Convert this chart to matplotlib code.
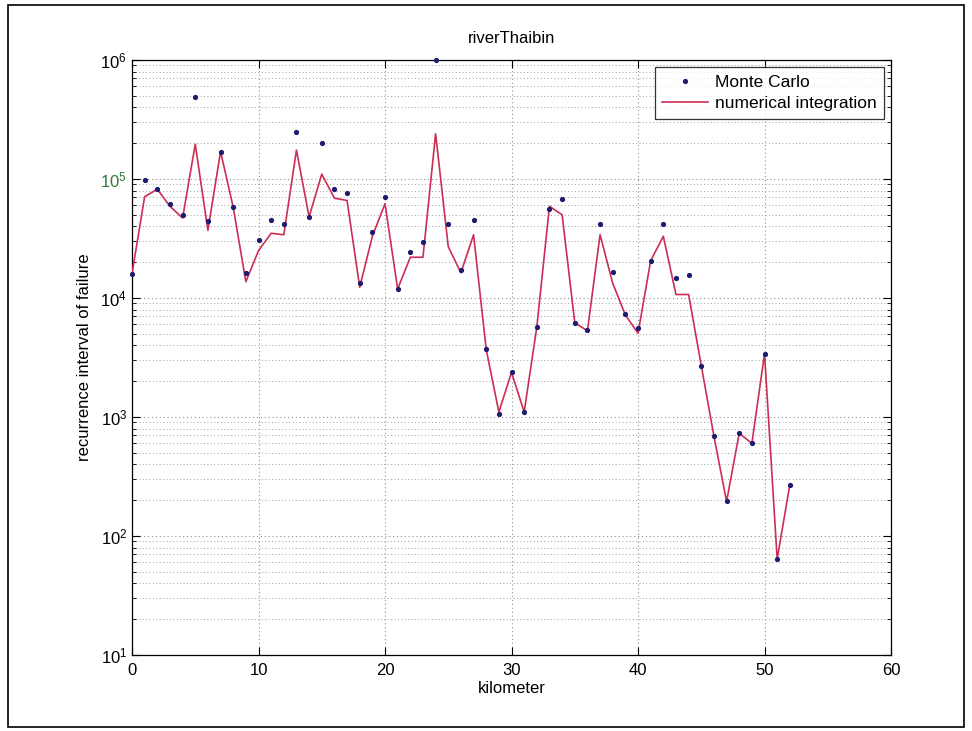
"""
Recurrence interval of failure along riverThaibin (Monte Carlo vs numerical integration).
"""

import numpy as np
import matplotlib
matplotlib.use("Agg")
import matplotlib.pyplot as plt
from matplotlib.patches import Rectangle
from matplotlib.ticker import LogLocator, NullFormatter, FixedLocator

plt.rcParams["font.family"] = ["Liberation Sans", "DejaVu Sans"]

km = list(range(0, 53))

# Monte Carlo estimates (dots)
monte_carlo = [
    1.6e4, 9.9e4, 8.2e4, 6.2e4, 5.0e4, 4.9e5, 4.4e4, 1.7e5, 5.8e4, 1.63e4,
    3.1e4, 4.5e4, 4.2e4, 2.5e5, 4.8e4, 2.0e5, 8.3e4, 7.7e4, 1.33e4, 3.6e4,
    7.1e4, 1.19e4, 2.45e4, 2.97e4, 1.0e6, 4.2e4, 1.72e4, 4.5e4, 3.7e3, 1.05e3,
    2.37e3, 1.1e3, 5.7e3, 5.6e4, 6.8e4, 6.2e3, 5.4e3, 4.2e4, 1.65e4, 7.4e3,
    5.6e3, 2.06e4, 4.2e4, 1.46e4, 1.56e4, 2.7e3, 6.9e2, 1.95e2, 7.3e2, 6.0e2,
    3.4e3, 64, 2.7e2,
]

# numerical integration (line)
numerical = [
    1.6e4, 7.1e4, 8.2e4, 5.9e4, 4.7e4, 1.96e5, 3.7e4, 1.7e5, 5.8e4, 1.37e4,
    2.5e4, 3.5e4, 3.4e4, 1.75e5, 4.8e4, 1.1e5, 6.9e4, 6.6e4, 1.23e4, 3.3e4,
    6.2e4, 1.19e4, 2.2e4, 2.2e4, 2.4e5, 2.7e4, 1.63e4, 3.4e4, 3.7e3, 1.1e3,
    2.37e3, 1.1e3, 5.7e3, 5.9e4, 5.0e4, 6.2e3, 5.3e3, 3.4e4, 1.33e4, 7.2e3,
    5.05e3, 2.06e4, 3.3e4, 1.07e4, 1.07e4, 2.7e3, 6.9e2, 1.95e2, 7.3e2, 6.0e2,
    3.4e3, 64, 2.7e2,
]

x_ticks = [0, 10, 20, 30, 40, 50, 60]

fig = plt.figure(figsize=(9.72, 7.31), dpi=100, facecolor="white")
ax = fig.add_axes([0.1358, 0.104, 0.7809, 0.8139])

# --- grid first, then data
ax.set_yscale("log")
ax.set_xlim(0, 60)
ax.set_ylim(10, 1e6)
ax.xaxis.set_major_locator(FixedLocator(x_ticks))
ax.yaxis.set_major_locator(LogLocator(base=10, numticks=10))
ax.yaxis.set_minor_locator(LogLocator(base=10, subs=np.arange(2, 10), numticks=20))
ax.yaxis.set_minor_formatter(NullFormatter())
ax.grid(True, which="major", axis="both", linestyle=(0, (1, 2.5)),
        color="#909090", linewidth=0.8)
ax.grid(True, which="minor", axis="y", linestyle=(0, (1, 2.5)),
        color="#a0a0a0", linewidth=0.7)

ax.plot(km, numerical, color="#cc2d55", linewidth=1.2,
        label="numerical integration", zorder=3)
ax.plot(km, monte_carlo, linestyle="none", marker=".", markersize=5.5,
        color="#1c1c70", label="Monte Carlo", zorder=4, clip_on=False)

ax.tick_params(which="both", direction="in", top=True, right=True,
               labelsize=12)
ax.tick_params(axis="x", pad=6)
ax.tick_params(which="major", length=6)
ax.tick_params(which="minor", length=3)
for lab in ax.get_yticklabels():
    if "5" in lab.get_text():
        lab.set_color("#2a7a3a")

for sp in ax.spines.values():
    sp.set_linewidth(0.9)

ax.set_title("riverThaibin", fontsize=12, pad=12)
ax.set_xlabel("kilometer", fontsize=12, labelpad=2)
ax.set_ylabel("recurrence interval of failure", fontsize=12, labelpad=6)

handles, labels = ax.get_legend_handles_labels()
leg = ax.legend(handles[::-1], labels[::-1], loc="upper right",
                fontsize=12.5, frameon=True, fancybox=False,
                edgecolor="black", borderaxespad=0.4, handlelength=2.6,
                borderpad=0.45, labelspacing=0.35, handletextpad=0.4)
leg.get_frame().set_linewidth(0.9)

# scanned-page frame around the figure
fig.patches.append(Rectangle((0.008, 0.005), 0.984, 0.988,
                             transform=fig.transFigure, fill=False,
                             edgecolor="black", linewidth=1.2))

fig.savefig("out.png", dpi=100, facecolor="white")
